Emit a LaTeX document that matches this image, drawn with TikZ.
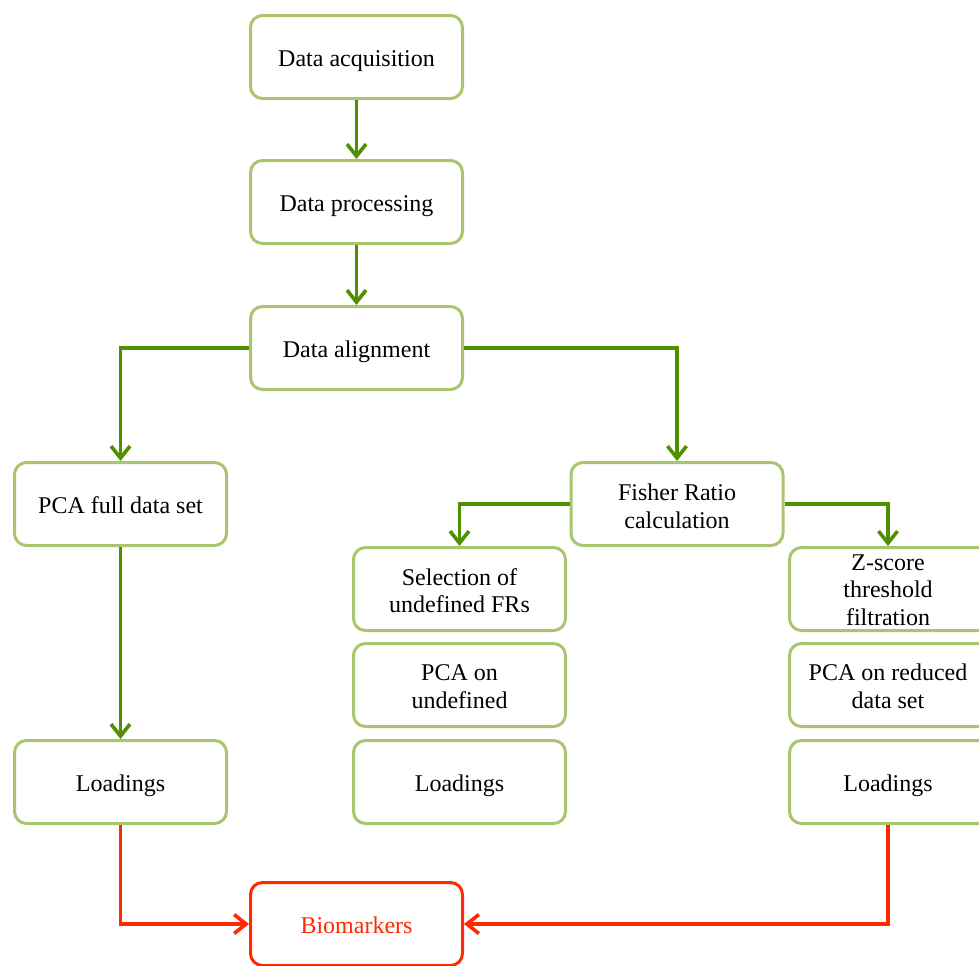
\documentclass[tikz,border=0pt]{standalone}
\usepackage{fontspec}
\setmainfont{Liberation Serif}
\usetikzlibrary{arrows.meta}
\definecolor{boxgreen}{HTML}{A9C66F}
\definecolor{arrowgreen}{HTML}{4F9000}
\definecolor{bioRed}{HTML}{FF2A00}
\begin{document}
\begin{tikzpicture}[x=0.5pt,y=-0.5pt,
  stepbox/.style={draw=boxgreen, line width=1.5pt, rounded corners=6pt, fill=white,
    minimum width=106pt, minimum height=41.5pt, align=center, inner sep=1pt,
    font=\fontsize{12}{13.8}\selectfont},
  oneline/.style={text height=10pt, text depth=0.6pt},
  boxtext/.style={align=center, inner sep=1pt, font=\fontsize{12}{13.8}\selectfont},
  redbox/.style={stepbox, draw=bioRed, text=bioRed},
  flow/.style={draw=arrowgreen, line width=1.8pt, -{Straight Barb[length=6pt,width=9.5pt,line width=1.8pt]}},
  redflow/.style={flow, draw=bioRed}]
\clip (0,0) rectangle (979,965);
\useasboundingbox (0,0) rectangle (979,965);
\node[stepbox,oneline] (acq) at (356.5,57) {Data acquisition};
\node[stepbox,oneline] (proc) at (356.5,202) {Data processing};
\node[stepbox,oneline] (align) at (356.5,348) {Data alignment};
\node[stepbox,oneline] (pcafull) at (120.5,504) {PCA full data set};
\node[stepbox] (fisher) at (677,504) {};
\node[boxtext] (fishertext) at (677,506) {Fisher Ratio\\calculation};
\node[stepbox] (sel) at (459.5,589) {};
\node[boxtext] (seltext) at (459.5,590.5) {Selection of\\undefined FRs};
\node[stepbox] (pcaund) at (459.5,685) {};
\node[boxtext] (pcaundtext) at (459.5,686.5) {PCA on\\undefined};
\node[stepbox,oneline] (loadmid) at (459.5,782) {Loadings};
\node[stepbox] (zs) at (895.5,589) {};
\node[boxtext] (zstext) at (888,590) {Z-score\\threshold\\filtration};
\node[stepbox] (pcared) at (895.5,685) {};
\node[boxtext] (pcaredtext) at (888,686.5) {PCA on reduced\\data set};
\node[stepbox] (loadright) at (895.5,782) {};
\node[boxtext,oneline] (loadrighttext) at (888,782) {Loadings};
\node[stepbox,oneline] (loadleft) at (120.5,782) {Loadings};
\node[redbox,oneline] (bio) at (356.5,924) {Biomarkers};
\draw[flow] (acq) -- (proc);
\draw[flow] (proc) -- (align);
\draw[flow] (align.west) -| (pcafull.north);
\draw[flow] (align.east) -| (fisher.north);
\draw[flow] (fisher.west) -| (sel.north);
\draw[flow] (fisher.east) -| (zstext.north |- zs.north);
\draw[flow] (pcafull) -- (loadleft);
\draw[redflow] (loadleft.south) |- (bio.west);
\draw[redflow] (loadrighttext.south |- loadright.south) |- (bio.east);
\end{tikzpicture}
\end{document}
